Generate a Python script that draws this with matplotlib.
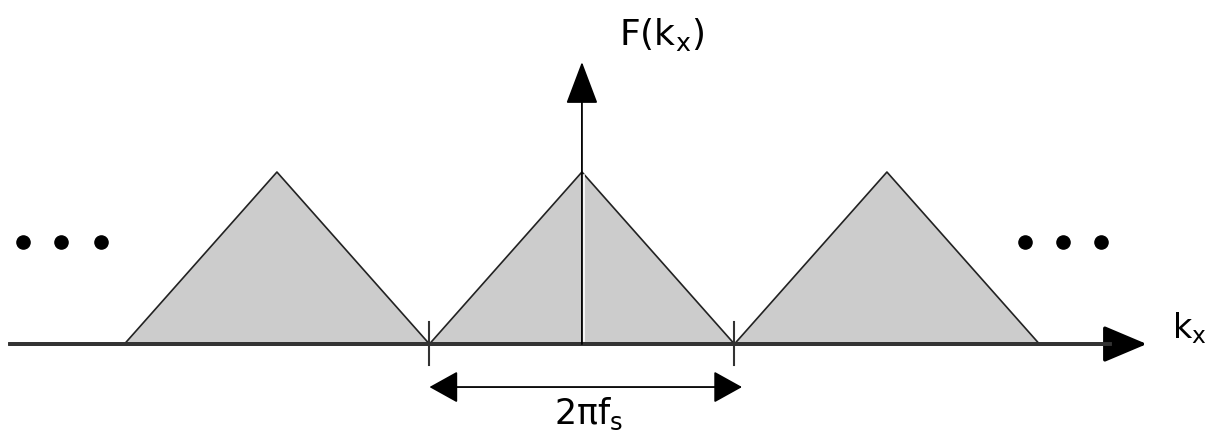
import numpy as np
import matplotlib.pyplot as plt

# spectrum copies, spacing 2*pi*fs = 1 unit
centers = [-1, 0, 1]
half_width = 0.5
peak = 1.0
dots_left = [-1.833, -1.708, -1.577]
dots_right = [1.452, 1.577, 1.702]
dot_level = 0.593
tick_pos = [-0.5, 0.5]

fig = plt.figure(figsize=(12.09, 4.34), dpi=100)
ax = fig.add_axes([0, 0, 1, 1])
ax.set_xlim(-1.908, 2.056)
ax.set_ylim(-0.523, 2.0)
ax.axis('off')

for c in centers:
    xs = [c - half_width, c, c + half_width]
    ys = [0, peak, 0]
    ax.fill(xs, ys, color='#cccccc', lw=0, zorder=1)
    ax.plot(xs, ys, color='#222222', lw=1.2, zorder=2)

# k_x axis
ax.annotate('', xy=(1.852, 0), xytext=(-1.875, 0),
            arrowprops=dict(arrowstyle='-|>,head_length=0.9,head_width=0.38',
                            mutation_scale=30, color='black', lw=2.5,
                            shrinkA=0, shrinkB=0), zorder=3)
ax.plot([-1.875, 1.73], [0, 0], color='#333333', lw=2.8, zorder=3)

# F axis (thin white highlight just right of it)
ax.plot([0.006, 0.006], [0.02, 0.98], color='white', lw=1.2, zorder=3)
ax.annotate('', xy=(0, 1.64), xytext=(0, 0),
            arrowprops=dict(arrowstyle='-|>,head_length=0.9,head_width=0.34',
                            mutation_scale=30, color='black', lw=1.3,
                            shrinkA=0, shrinkB=0), zorder=4)

for t in tick_pos:
    ax.plot([t, t], [-0.122, 0.128], color='#333333', lw=1.5, zorder=4)

ax.annotate('', xy=(0.525, -0.25), xytext=(-0.5, -0.25),
            arrowprops=dict(arrowstyle='<|-|>,head_length=0.9,head_width=0.5',
                            mutation_scale=20, color='black', lw=1.3,
                            shrinkA=0, shrinkB=0))

ax.scatter(dots_left + dots_right, [dot_level] * 6, s=90, color='black', zorder=5)

ax.text(0.26, 1.80, r'F(k$_\mathregular{x}$)', fontsize=26, ha='center', va='center')
ax.text(1.99, 0.09, r'k$_\mathregular{x}$', fontsize=24, ha='center', va='center')
ax.text(0.02, -0.405, r'2πf$_\mathregular{s}$', fontsize=25, ha='center', va='center')

fig.savefig('out.png', dpi=100)
